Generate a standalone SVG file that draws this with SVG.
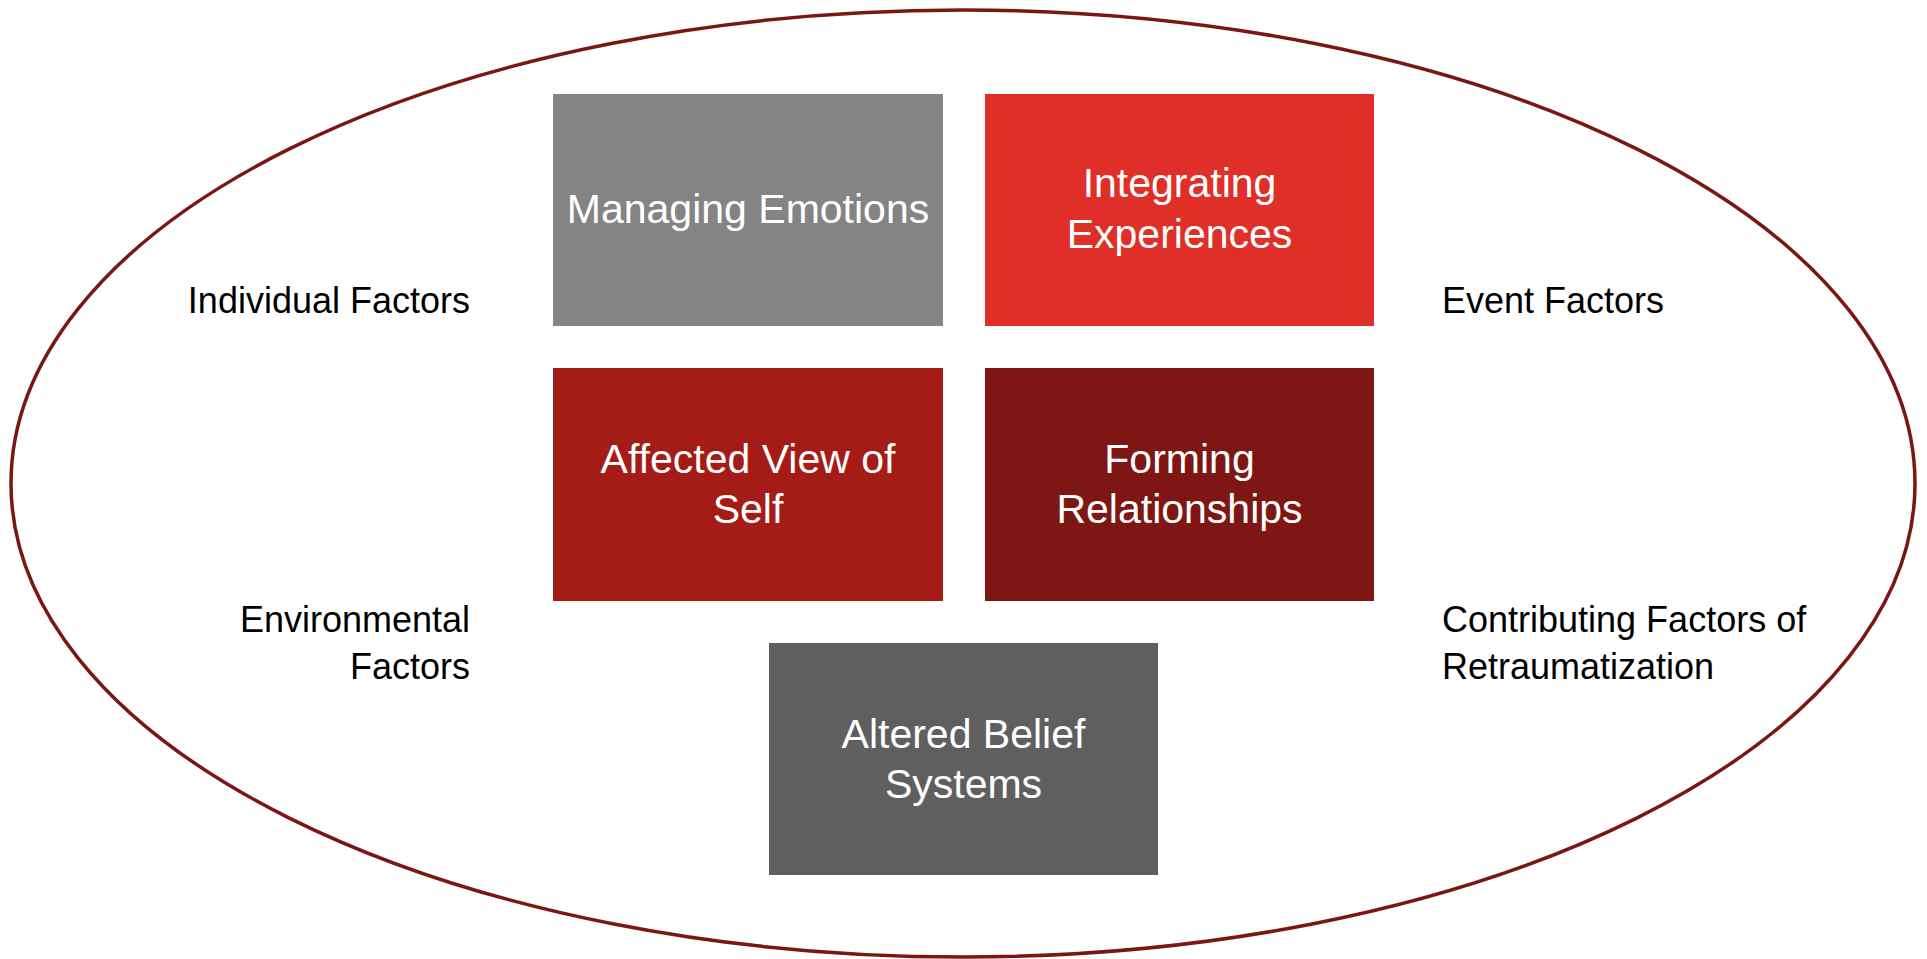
<svg xmlns="http://www.w3.org/2000/svg" width="1927" height="959" viewBox="0 0 1927 959">
<style>
.box text{font-family:"Liberation Sans",Arial,sans-serif;font-size:41px;fill:#ffffff;text-anchor:middle}
.lbl{font-family:"Liberation Sans",Arial,sans-serif;font-size:36px;fill:#000000}
.r{text-anchor:end}
</style>
<rect width="1927" height="959" fill="#ffffff"/>
<g id="outline">
<ellipse cx="963" cy="483.5" rx="952" ry="473.5" fill="none" stroke="#7A1712" stroke-width="3.5"/>
</g>
<g id="connectors"></g>
<g id="managing-emotions" class="box">
<rect x="553" y="94" width="390" height="232" fill="#848484"/>
<text x="748" y="223">Managing Emotions</text>
</g>
<g id="integrating-experiences" class="box">
<rect x="985" y="94" width="389" height="232" fill="#E02F28"/>
<text x="1179.5" y="197">Integrating</text>
<text x="1179.5" y="248">Experiences</text>
</g>
<g id="affected-view" class="box">
<rect x="553" y="368" width="390" height="233" fill="#A51C17"/>
<text x="748" y="473">Affected View of</text>
<text x="748" y="523">Self</text>
</g>
<g id="forming-relationships" class="box">
<rect x="985" y="368" width="389" height="233" fill="#7E1713"/>
<text x="1179.5" y="473">Forming</text>
<text x="1179.5" y="523">Relationships</text>
</g>
<g id="altered-belief" class="box">
<rect x="769" y="643" width="389" height="232" fill="#5F5F5F"/>
<text x="963.5" y="747.5">Altered Belief</text>
<text x="963.5" y="797.5">Systems</text>
</g>
<g id="individual-factors">
<text class="lbl r" x="470" y="313">Individual Factors</text>
</g>
<g id="event-factors">
<text class="lbl" x="1442" y="313">Event Factors</text>
</g>
<g id="environmental-factors">
<text class="lbl r" x="470" y="632">Environmental</text>
<text class="lbl r" x="470" y="679">Factors</text>
</g>
<g id="contributing-factors">
<text class="lbl" x="1442" y="632">Contributing Factors of</text>
<text class="lbl" x="1442" y="679">Retraumatization</text>
</g>
</svg>
